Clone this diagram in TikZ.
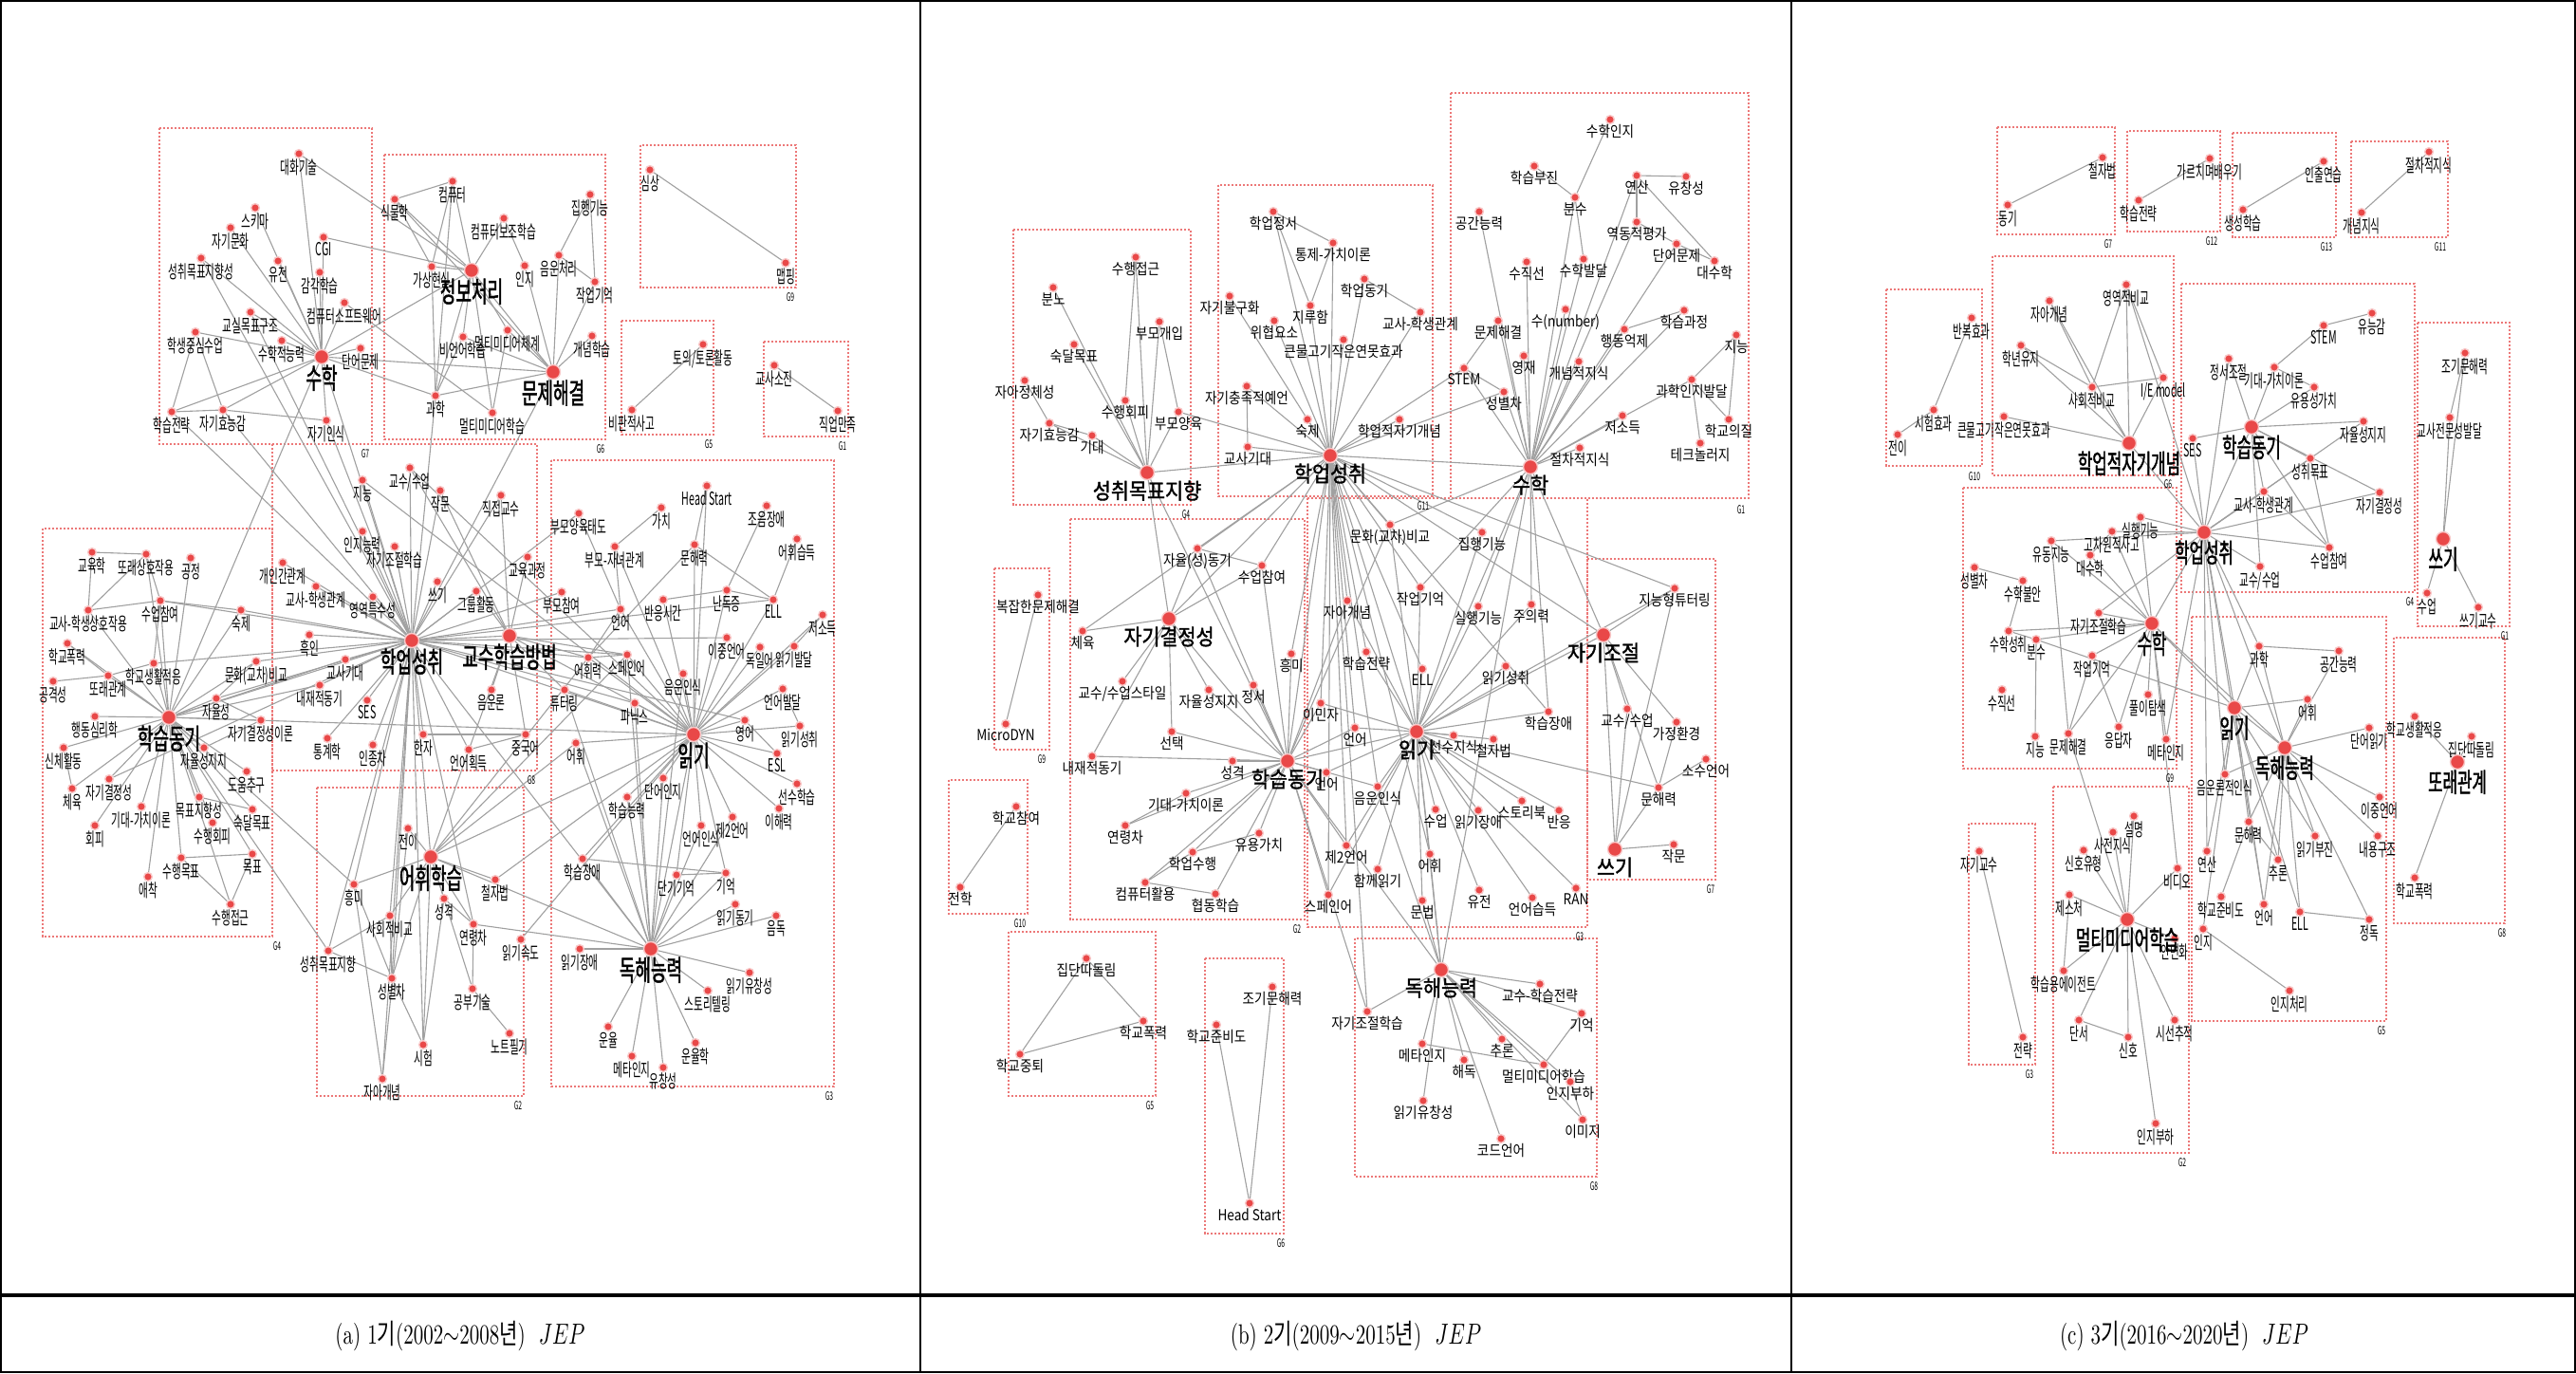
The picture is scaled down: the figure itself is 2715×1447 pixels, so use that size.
\documentclass[tikz,border=0pt]{standalone}
\usepackage{fontspec}
\usepackage{graphicx}
\usetikzlibrary{backgrounds}
\newfontfamily\krA[FakeStretch=0.56]{Noto Sans CJK KR}
\newfontfamily\krHub[FakeStretch=0.6,FakeBold=1.5]{Noto Sans CJK KR}
\newfontfamily\krB[FakeStretch=0.85]{Noto Sans CJK KR}
\newfontfamily\krBhub[FakeStretch=0.9,FakeBold=1.5]{Noto Sans CJK KR}
\newfontfamily\krCap{Noto Sans CJK KR}
\definecolor{dotred}{RGB}{233,72,72}
\definecolor{boxred}{RGB}{236,120,120}
\definecolor{linkgray}{RGB}{160,160,160}
\begin{document}
\begin{tikzpicture}[x=0.5pt,y=-0.5pt,
  dot/.style={circle,fill=dotred,draw=dotred!30,line width=0.7pt,inner sep=0pt,minimum size=4.4pt},
  hub/.style={dot,minimum size=7.5pt},
  kwa/.style={font=\fontsize{9.5}{10}\krA,inner sep=0pt},
  hba/.style={font=\fontsize{15}{16}\krHub,inner sep=0pt},
  kwb/.style={font=\fontsize{8}{9}\krB,inner sep=0pt},
  hbb/.style={font=\fontsize{11.5}{12}\krBhub,inner sep=0pt},
  hbc/.style={font=\fontsize{14}{15}\krHub,inner sep=0pt},
  link/.style={draw=linkgray,line width=0.55pt},
  grp/.style={draw=boxred,line width=0.6pt,dash pattern=on 1.1pt off 0.9pt},
  gtag/.style={font=\fontsize{6}{6}\krA,inner sep=0pt},
  captext/.style={font=\fontsize{10.5}{12}\selectfont,inner sep=0pt}]
\useasboundingbox (0,0) rectangle (2715,1447);

% panel (a)
\foreach \id/\x/\y/\txt in {
  aTalk/315/162/대화기술, aSchema/269/219/스키마, aSelfcul/243/240/자기문화,
  aGoalor/212/272/성취목표지향성, aGene/293/275/유전, aCGI/341/250/CGI,
  aSense/337/287/감각학습, aSoft/363/319/컴퓨터소프트웨어, aClass/264/329/교실목표구조,
  aStud/206/350/학생중심수업, aMathab/297/359/수학적능력, aWord/380/367/단어문제,
  aStrat/181/434/학습전략, aEff/235/432/자기효능감, aSelfaw/344/443/자기인식,
  aPlant/416/210/식물학, aComp/477/191/컴퓨터, aCAI/531/230/컴퓨터보조학습,
  aVR/455/281/가상현실, aCog/553/280/인지, aPhon/589/269/음운처리,
  aExec/622/205/집행기능, aWM/627/297/작업기억, aConc/624/354/개념학습,
  aMMsys/535/348/멀티미디어체계, aNonv/488/355/비언어학습, aSci/459/417/과학,
  aMMlearn/519/435/멀티미디어학습, aImag/685/179/심상, aMap/828/277/맵핑,
  aDisc/741/363/{토의/토론활동}, aCrit/666/432/비판적사고, aBurn/816/385/교사소진,
  aJob/883/433/직업만족,
  aEdu/97/582/교육학, aPeerint/154/584/또래상호작용, aFair/201/588/공정,
  aTSint/93/643/교사-학생상호작용, aPart/169/633/수업참여, aHw/254/643/숙제,
  aViol/71/678/학교폭력, aAdj/162/699/학교생활적응, aPeer/114/712/또래관계,
  aAggr/56/718/공격성, aCult/270/697/문화(교차)비교, aAuto/228/736/자율성,
  aBehav/100/755/행동심리학, aSDT/275/759/자기결정성이론, aPhys/67/788/신체활동,
  aAutosup/215/788/자율성지지, aHelp/260/813/도움추구, aSD/115/821/자기결정성,
  aPE/76/831/체육, aGoal/210/840/목표지향성, aMast/266/853/숙달목표,
  aEV/149/850/기대-가치이론, aPavoid/224/867/수행회피, aAvoid/100/870/회피,
  aPgoal/191/904/수행목표, aTarget/266/900/목표, aAttach/156/924/애착,
  aPappr/243/953/수행접근,
  aIntel/382/506/지능, aTeach/432/493/{교수/수업}, aWrit/464/517/작문,
  aDirect/528/522/직접교수, aCogab/382/560/인지능력, aSRL/416/576/자기조절학습,
  aInterp/298/593/개인간관계, aTSrel/333/618/교사-학생관계, aDomain/393/629/영역특수성,
  aCurr/556/587/교육과정, aWriting/461/613/쓰기, aGroup/502/623/그룹활동,
  aBlack/326/669/흑인, aTexp/364/695/교사기대, aIntr/337/722/내재적동기,
  aSES/387/738/SES, aPhonol/518/727/음운론, aHanja/446/774/한자,
  aAcq/494/790/언어획득, aChin/554/774/중국어, aStat/345/778/통계학,
  aRace/393/785/인종차,
  aHS/745/512/Head Start, aValue/697/535/가치, aArtic/808/533/조음장애,
  aParatt/610/541/부모양육태도, aParch/648/576/부모-자녀관계, aLit/732/574/문해력,
  aVocacq/840/568/어휘습득, aParinv/592/624/부모참여, aLang/654/642/언어,
  aRT/699/632/반응시간, aDys/766/622/난독증, aELL/815/632/ELL,
  aLowinc/867/648/저소득, aBil/766/672/이중언어, aGerm/801/682/독일어,
  aReaddev/837/681/읽기발달, aVocab/620/693/어휘력, aSpan/661/690/스페인어,
  aPA/720/710/음운인식, aTutor/595/727/튜터링, aPhonics/669/741/파닉스,
  aLangdev/825/726/언어발달, aEng/785/759/영어, aReadach/843/765/읽기성취,
  aVoc/607/783/어휘, aESL/819/794/ESL, aWordrec/699/820/단어인지,
  aPrior/840/826/선수학습, aLearnab/661/840/학습능력, aCompr/821/852/이해력,
  aL2/772/861/제2언어, aLangaw/739/870/언어인식, aLD/614/905/학습장애,
  aSTM/713/922/단기기억, aMem/765/920/기억, aRmot/775/953/읽기동기,
  aOral/818/965/음독, aRdis/611/1000/읽기장애, aFlu/790/1025/읽기유창성,
  aStory/746/1044/스토리텔링, aPros/641/1082/운율, aMeta/666/1113/메타인지,
  aFluen/699/1125/유창성, aProsody/733/1099/운율학,
  aTrans/430/873/전이, aInt/373/932/흥미, aSpell/522/927/철자법,
  aSoc/411/965/사회적비교, aPers/468/947/성격, aAge/499/974/연령차,
  aRspeed/549/990/읽기속도, aAgo/346/1002/성취목표지향, aGender/413/1031/성별차,
  aStudy/498/1042/공부기술, aNote/537/1089/노트필기, aTest/446/1101/시험,
  aSelfc/403/1137/자아개념}
  {\node[dot,label distance=2.5pt,label={[kwa]below:\txt}] (\id) at (\x,\y) {};}
\foreach \id/\x/\y/\txt in {
  aMath/339/376/수학, aInfo/497/285/정보처리, aProb/583/392/문제해결,
  aMot/178/756/학습동기, aAch/434/675/학업성취, aTLM/537/670/교수학습방법,
  aRead/731/774/읽기, aVL/454/903/어휘학습, aRC/686/1000/독해능력}
  {\node[hub,label distance=2.5pt,label={[hba]below:\txt}] (\id) at (\x,\y) {};}

% panel (b)
\foreach \id/\x/\y/\txt in {
  bPappr/1197/271/수행접근, bAnger/1110/303/분노, bParinv/1222/339/부모개입,
  bMast/1132/363/숙달목표, bIdent/1080/401/자아정체성, bPavoid/1186/422/수행회피,
  bParent/1242/434/부모양육, bEff/1106/446/자기효능감, bExpect/1151/459/기대,
  bEmo/1342/223/학업정서, bCVT/1405/256/통제-가치이론, bAmot/1438/294/학업동기,
  bHand/1296/312/자기불구화, bBore/1381/322/지루함, bThreat/1343/338/위협요소,
  bBFLP/1416/358/큰물고기작은연못효과, bSFP/1314/407/자기충족적예언, bHw/1378/442/숙제,
  bTexp/1315/471/교사기대, bASC/1475/442/학업적자기개념, bTSrel/1497/329/교사-학생관계,
  bMcog/1697/126/수학인지, bUnder/1617/175/학습부진, bCalc/1725/185/연산,
  bFlu/1777/186/유창성, bFrac/1660/208/분수, bSpace/1559/223/공간능력,
  bDyn/1725/234/역동적평가, bWP/1767/257/단어문제, bAlg/1807/275/대수학,
  bNL/1609/276/수직선, bMdev/1669/273/수학발달, bNum/1650/326/수(number),
  bPS/1579/338/문제해결, bInhib/1712/347/행동억제, bLproc/1775/327/학습과정,
  bIntel/1830/353/지능, bGifted/1606/375/영재, bConcept/1664/381/개념적지식,
  bSTEM/1543/388/STEM, bScidev/1783/400/과학인지발달, bGender/1585/413/성별차,
  bLowinc/1710/438/저소득, bSchq/1822/442/학교의질, bTech/1792/467/테크놀러지,
  bProc/1665/472/절차적지식,
  bCPS/1094/627/복잡한문제해결, bMicro/1060/763/MicroDYN,
  bSchpart/1071/850/학교참여, bTransf/1012/935/전학,
  bAutomot/1262/578/자율(성)동기, bPart/1330/596/수업참여, bPE/1141/665/체육,
  bTstyle/1183/718/{교수/수업스타일}, bAutosup/1274/727/자율성지지, bAffect/1321/722/정서,
  bInt/1361/689/흥미, bChoice/1235/771/선택, bIntr/1151/797/내재적동기,
  bPers/1299/802/성격, bEV/1250/836/기대-가치이론, bAge/1186/870/연령차,
  bUtil/1327/878/유용가치, bPerf/1257/898/학업수행, bComp/1207/930/컴퓨터활용,
  bCoop/1281/942/협동학습,
  bBully/1145/1010/집단따돌림, bViol/1205/1076/학교폭력, bDrop/1075/1111/학교중퇴,
  bEarly/1341/1040/조기문해력, bReady/1282/1080/학교준비도, bHS/1317/1268/Head Start,
  bCult/1465/553/문화(교차)비교, bExec/1562/561/집행기능, bWM/1497/619/작업기억,
  bSelfc/1420/633/자아개념, bExf/1558/639/실행기능, bAtt/1614/637/주의력,
  bStrat/1440/687/학습전략, bELL/1499/705/ELL, bRach/1587/702/읽기성취,
  bImm/1392/741/이민자, bLD/1632/750/학습장애, bLang/1428/767/언어,
  bPrior/1532/775/선수지식, bSpell/1574/779/철자법, bLang2/1398/814/언어,
  bPA/1452/829/음운인식, bClass/1513/853/수업, bRdis/1558/854/읽기장애,
  bStorybk/1604/844/스토리북, bResp/1643/854/반응, bL2/1419/891/제2언어,
  bVoc/1507/900/어휘, bShared/1452/916/함께읽기, bGene/1559/938/유전,
  bLacq/1615/946/언어습득, bRAN/1661/936/RAN, bSpan/1400/943/스페인어,
  bGram/1499/949/문법,
  bITS/1765/620/지능형튜터링, bTeach/1715/747/{교수/수업}, bHome/1767/761/가정환경,
  bMinor/1798/800/소수언어, bLit/1748/830/문해력, bComposition/1764/890/작문,
  bTLS/1623/1037/교수-학습전략, bSRL/1441/1066/자기조절학습, bMem/1667/1068/기억,
  bMeta/1499/1100/메타인지, bInfer/1583/1095/추론, bDecode/1543/1117/해독,
  bMML/1627/1122/멀티미디어학습, bRflu/1500/1160/읽기유창성, bCL/1655/1140/인지부하,
  bImage/1668/1180/이미지, bCode/1582/1200/코드언어}
  {\node[dot,label distance=4pt,label={[kwb]below:\txt}] (\id) at (\x,\y) {};}
\foreach \id/\x/\y/\txt in {
  bAGO/1209/498/성취목표지향, bAch/1402/480/학업성취, bMath/1613/492/수학,
  bSD/1232/652/자기결정성, bMot/1357/802/학습동기, bRead/1493/771/읽기,
  bSR/1690/669/자기조절, bWriting/1702/895/쓰기, bRC/1519/1022/독해능력}
  {\node[hub,label distance=4pt,label={[hbb]below:\txt}] (\id) at (\x,\y) {};}

% panel (c)
\foreach \id/\x/\y/\txt in {
  cSpell/2216/166/철자법, cMot/2116/216/동기, cTeachlearn/2329/167/가르치며배우기,
  cStrat/2254/211/학습전략, cRetr/2449/170/인출연습, cGen/2364/221/생성학습,
  cConc/2489/224/개념지식, cProc/2560/160/절차적지식,
  cRep/2078/335/반복효과, cTest/2038/432/시험효과, cTrans/2000/458/전이,
  cDomain/2241/300/영역적비교, cSelfc/2160/317/자아개념, cRet/2130/364/학년유지,
  cIE/2280/398/{I/E model}, cSoc/2205/408/사회적비교, cBFLP/2112/439/큰물고기작은연못효과,
  cSTEM/2449/343/STEM, cComp/2500/330/유능감, cEmo/2349/378/정서조절,
  cEV/2397/387/기대-가치이론, cUtil/2439/408/유용성가치, cAutosup/2491/444/자율성지지,
  cSES/2311/462/SES, cAgoal/2435/483/성취목표, cSD/2508/519/자기결정성,
  cTSrel/2386/518/교사-학생관계, cPart/2455/577/수업참여, cTeach/2382/597/{교수/수업},
  cExf/2256/545/실행기능, cHigh/2226/560/고차원적사고, cFluid/2162/570/유동지능,
  cAlg/2203/585/대수학, cGender/2081/598/성별차, cAnx/2132/612/수학불안,
  cSRL/2212/646/자기조절학습, cMach/2117/665/수학성취, cFrac/2146/674/분수,
  cWM/2205/691/작업기억, cNL/2110/727/수직선, cSol/2264/732/풀이탐색,
  cSpatial/2145/776/지능, cPS/2180/773/문제해결, cResp/2233/766/응답자,
  cMeta/2283/779/메타인지,
  cExpl/2249/860/설명, cPrior/2227/877/사전지식, cSig/2196/896/신호유형,
  cVideo/2295/915/비디오, cGest/2181/943/제스처, cAgent/2175/1023/학습용에이전트,
  cFace/2292/989/안면화, cCue/2191/1075/단서, cSignal/2243/1093/신호,
  cEye/2292/1075/시선추적, cCL/2272/1184/인지부하,
  cSelfinst/2086/897/자기교수, cStratc/2132/1093/전략,
  cSci/2381/681/과학, cSpace/2465/686/공간능력, cVoc/2432/737/어휘,
  cWordr/2497/767/단어읽기, cPA/2345/816/음운론적인식, cBil/2508/840/이중언어,
  cLit/2370/866/문해력, cStrug/2440/881/읽기부진, cStruct/2506/881/내용구조,
  cCalc/2326/897/연산, cInfer/2401/906/추론, cReady/2341/945/학교준비도,
  cLang/2386/953/언어, cELL/2424/961/ELL, cIntens/2497/969/정독,
  cCog/2322/979/인지, cCogproc/2413/1044/인지처리,
  cEarly/2598/372/조기문해력, cTPD/2582/440/교사전문성발달, cInst/2558/625/수업,
  cWinst/2612/640/쓰기교수,
  cAdj/2545/755/학교생활적응, cBully/2605/776/집단따돌림, cViol/2545/925/학교폭력}
  {\node[dot,label distance=4pt,label={[kwa]below:\txt}] (\id) at (\x,\y) {};}
\foreach \id/\x/\y/\txt in {
  cASC/2244/467/학업적자기개념, cMotiv/2373/450/학습동기, cAch/2323/561/학업성취,
  cMath/2268/657/수학, cRead/2355/746/읽기, cRC/2408/788/독해능력,
  cMML/2242/969/멀티미디어학습, cWriting/2575/568/쓰기, cPeerrel/2590/803/또래관계}
  {\node[hub,label distance=2.5pt,label={[hbc]below:\txt}] (\id) at (\x,\y) {};}

% group tags
\foreach \id/\x/\y/\txt in {
  gA7/385/478/G7, gA6/633/473/G6, gA9/833/313/G9, gA5/747/468/G5, gA1/888/470/G1,
  gA4/292/997/G4, gA8/560/822/G8, gA3/874/1155/G3, gA2/546/1165/G2,
  gB4/1250/542/G4, gB11/1500/533/G11, gB1/1835/537/G1, gB9/1098/800/G9,
  gB10/1075/973/G10, gB2/1367/979/G2, gB3/1665/987/G3, gB7/1803/937/G7,
  gB5/1212/1165/G5, gB6/1350/1310/G6, gB8/1680/1250/G8,
  gC7/2222/257/G7, gC12/2331/254/G12, gC13/2452/260/G13, gC11/2572/260/G11,
  gC10/2081/502/G10, gC6/2285/510/G6, gC4/2540/634/G4, gC1/2640/670/G1,
  gC9/2287/820/G9, gC5/2510/1086/G5, gC8/2637/983/G8, gC3/2139/1132/G3,
  gC2/2300/1225/G2}
  {\node[gtag] (\id) at (\x,\y) {\txt};}

\begin{scope}[on background layer]
\foreach \xa/\ya/\xb/\yb in {
  168/135/392/468, 405/163/638/463, 675/153/839/303, 655/338/752/458,
  805/360/894/460, 45/557/287/987, 287/468/566/812, 581/485/879/1145,
  334/830/552/1155,
  1068/242/1255/532, 1284/195/1510/523, 1529/98/1843/525, 1048/599/1106/790,
  1000/822/1083/963, 1128/547/1375/969, 1378/525/1673/977, 1673/589/1808/927,
  1063/982/1218/1155, 1270/1010/1353/1300, 1428/989/1683/1240,
  2105/134/2229/247, 2242/138/2340/244, 2353/140/2462/250, 2478/149/2580/250,
  1988/305/2089/491, 2100/270/2291/501, 2299/299/2545/624, 2548/340/2645/660,
  2069/514/2294/810, 2310/650/2515/1076, 2523/672/2640/973, 2075/868/2145/1122,
  2164/829/2307/1215}
  \draw[grp] (\xa,\ya) rectangle (\xb,\yb);

\foreach \u/\v in {
  aAch/aIntel, aAch/aCogab, aAch/aSRL, aAch/aInterp, aAch/aTSrel, aAch/aDomain,
  aAch/aBlack, aAch/aTexp, aAch/aIntr, aAch/aSES, aAch/aStat, aAch/aRace,
  aAch/aTeach, aAch/aWriting, aAch/aGroup, aAch/aTLM, aAch/aHanja, aAch/aAcq,
  aAch/aCult, aAch/aHw, aAch/aMot, aAch/aMath, aAch/aRead, aAch/aVL,
  aAch/aGender, aAch/aSoc, aAch/aAgo, aAch/aInt, aAch/aTest, aAch/aSelfc,
  aAch/aRC, aAch/aEff, aAch/aStrat, aAch/aPart, aAch/aAdj, aAch/aLang,
  aAch/aSpan, aAch/aVocab, aAch/aEng, aAch/aPhonics, aAch/aSci, aAch/aProb,
  aAch/aClass, aAch/aGoalor, aAch/aSD, aAch/aAuto, aAch/aParatt, aAch/aParinv,
  aAch/aELL, aAch/aBil, aAch/aWrit, aAch/aDirect, aAch/aSelfaw, aAch/aAge,
  aMot/aPeerint, aMot/aFair, aMot/aTSint, aMot/aPart, aMot/aHw, aMot/aViol,
  aMot/aAdj, aMot/aPeer, aMot/aCult, aMot/aAuto, aMot/aBehav, aMot/aSDT,
  aMot/aPhys, aMot/aAutosup, aMot/aHelp, aMot/aSD, aMot/aPE, aMot/aGoal,
  aMot/aMast, aMot/aEV, aMot/aPavoid, aMot/aAvoid, aMot/aPgoal, aMot/aTarget,
  aMot/aAttach, aMot/aPappr, aMot/aMath, aMot/aInt, aMot/aIntr, aMot/aTexp,
  aMot/aRead, aMot/aAgo,
  aEdu/aPeerint, aEdu/aTSint, aPeerint/aTSint, aPeerint/aPart, aTSint/aPart,
  aPart/aHw, aViol/aPeer, aAggr/aPeer, aPeer/aAdj, aPgoal/aTarget, aPappr/aTarget,
  aPappr/aPgoal, aGoal/aMast, aAuto/aSDT, aAutosup/aSDT, aPart/aAdj, aPhys/aPE,
  aAuto/aCult,
  aRead/aHS, aRead/aLit, aRead/aDys, aRead/aELL, aRead/aBil, aRead/aGerm,
  aRead/aReaddev, aRead/aVocab, aRead/aSpan, aRead/aPA, aRead/aTutor,
  aRead/aPhonics, aRead/aLangdev, aRead/aEng, aRead/aReadach, aRead/aVoc,
  aRead/aESL, aRead/aWordrec, aRead/aPrior, aRead/aLearnab, aRead/aCompr,
  aRead/aL2, aRead/aLangaw, aRead/aLD, aRead/aSTM, aRead/aMem, aRead/aRC,
  aRead/aLang, aRead/aRT, aRead/aLowinc, aRead/aTLM, aRead/aVL, aRead/aSpell,
  aRead/aRspeed, aRead/aParch, aRead/aIntel, aRead/aTeach,
  aValue/aParch, aParatt/aLang, aParch/aLang, aHS/aLit, aArtic/aDys,
  aVocacq/aELL, aLit/aELL, aLowinc/aReaddev, aLit/aVocab, aRT/aDys,
  aLang/aVocab, aDys/aELL, aSpan/aVocab, aSTM/aMem, aLD/aMem, aEng/aESL,
  aReadach/aLangdev,
  aRC/aLD, aRC/aSTM, aRC/aMem, aRC/aRmot, aRC/aOral, aRC/aRdis, aRC/aFlu,
  aRC/aStory, aRC/aPros, aRC/aMeta, aRC/aFluen, aRC/aProsody, aRC/aWordrec,
  aRC/aLearnab, aRC/aLangaw, aRC/aL2, aRC/aVL, aRC/aVoc, aRC/aPA,
  aRC/aPhonics, aRC/aAge, aRC/aTutor, aRC/aSpan,
  aVL/aTrans, aVL/aInt, aVL/aSpell, aVL/aSoc, aVL/aPers, aVL/aAge, aVL/aGender,
  aVL/aTest, aVL/aStudy, aVL/aTLM, aVL/aVoc, aVL/aVocab, aVL/aSpan,
  aInt/aGender, aAgo/aGender, aSoc/aGender, aGender/aTest, aPers/aAge,
  aAge/aStudy, aStudy/aNote, aSelfc/aTrans, aSelfc/aInt, aPers/aTest, aAgo/aSoc,
  aMath/aTalk, aMath/aSchema, aMath/aSelfcul, aMath/aGoalor, aMath/aGene,
  aMath/aCGI, aMath/aSense, aMath/aSoft, aMath/aClass, aMath/aStud,
  aMath/aMathab, aMath/aWord, aMath/aEff, aMath/aSelfaw, aMath/aProb,
  aMath/aInfo, aMath/aStrat, aMath/aSci,
  aStud/aStrat, aStud/aEff, aStrat/aEff, aEff/aSelfaw, aTalk/aInfo, aCGI/aInfo,
  aSoft/aMMlearn,
  aInfo/aPlant, aInfo/aComp, aInfo/aCAI, aInfo/aVR, aInfo/aNonv, aInfo/aMMsys,
  aInfo/aSci, aInfo/aMMlearn, aInfo/aProb,
  aProb/aPhon, aProb/aWM, aProb/aConc, aProb/aCog, aProb/aMMsys, aProb/aSci,
  aProb/aNonv, aProb/aPlant,
  aPlant/aComp, aPlant/aVR, aComp/aVR, aComp/aSci, aPhon/aExec, aPhon/aWM,
  aExec/aWM, aCAI/aCog, aVR/aSci, aNonv/aSci, aMMsys/aMMlearn,
  aTLM/aDirect, aTLM/aCurr, aTLM/aGroup, aTLM/aPhonol, aTLM/aChin, aTLM/aTutor,
  aTLM/aVocab, aTLM/aSpan, aTLM/aWrit, aTLM/aTeach,
  aHanja/aChin, aAcq/aChin, aImag/aMap, aDisc/aCrit, aBurn/aJob}
  \draw[link] (\u) -- (\v);

\foreach \u/\v in {
  bAch/bEmo, bAch/bCVT, bAch/bAmot, bAch/bHand, bAch/bBore, bAch/bThreat,
  bAch/bBFLP, bAch/bSFP, bAch/bHw, bAch/bTexp, bAch/bASC, bAch/bTSrel,
  bAch/bAGO, bAch/bMath, bAch/bRead, bAch/bMot, bAch/bSD, bAch/bAutomot,
  bAch/bPart, bAch/bCult, bAch/bSelfc, bAch/bStrat, bAch/bImm, bAch/bLang,
  bAch/bELL, bAch/bWM, bAch/bGender, bAch/bSTEM, bAch/bInt, bAch/bL2,
  bAch/bSpan, bAch/bSRL, bAch/bParent, bAch/bPE, bAch/bLD, bAch/bExec,
  bAch/bPA, bAch/bVoc, bAch/bSR, bAch/bITS,
  bAGO/bPappr, bAGO/bAnger, bAGO/bParinv, bAGO/bMast, bAGO/bPavoid,
  bAGO/bParent, bAGO/bEff, bAGO/bExpect, bAGO/bSD, bAGO/bMot,
  bPappr/bPavoid, bParinv/bParent, bIdent/bEff, bEff/bExpect,
  bEmo/bCVT, bCVT/bBore, bEmo/bBore, bAmot/bTSrel, bSFP/bTexp,
  bMath/bFrac, bMath/bSpace, bMath/bCalc, bMath/bMdev, bMath/bNum, bMath/bPS,
  bMath/bGifted, bMath/bConcept, bMath/bSTEM, bMath/bScidev, bMath/bGender,
  bMath/bLowinc, bMath/bProc, bMath/bInhib, bMath/bDyn, bMath/bWP, bMath/bNL,
  bMath/bRead, bMath/bSR, bMath/bWM, bMath/bAtt, bMath/bExf, bMath/bLD,
  bMath/bRC, bMath/bCult, bMath/bLproc,
  bMcog/bFrac, bUnder/bFrac, bFrac/bMdev, bCalc/bFlu, bCalc/bAlg, bDyn/bWP,
  bWP/bAlg, bIntel/bScidev, bIntel/bSchq, bScidev/bTech, bScidev/bSchq,
  bSTEM/bPS, bSTEM/bGender, bLproc/bInhib, bCalc/bDyn,
  bRead/bCult, bRead/bExec, bRead/bWM, bRead/bSelfc, bRead/bExf, bRead/bAtt,
  bRead/bStrat, bRead/bELL, bRead/bRach, bRead/bImm, bRead/bLD, bRead/bLang,
  bRead/bPrior, bRead/bSpell, bRead/bPA, bRead/bClass, bRead/bRdis,
  bRead/bStorybk, bRead/bResp, bRead/bL2, bRead/bVoc, bRead/bShared,
  bRead/bGene, bRead/bLacq, bRead/bRAN, bRead/bSpan, bRead/bGram, bRead/bRC,
  bRead/bMot, bRead/bLit, bRead/bITS, bRead/bSR, bRead/bLang2,
  bMot/bAutomot, bMot/bPart, bMot/bSD, bMot/bAutosup, bMot/bAffect, bMot/bInt,
  bMot/bChoice, bMot/bIntr, bMot/bPers, bMot/bEV, bMot/bAge, bMot/bUtil,
  bMot/bPerf, bMot/bComp, bMot/bCoop, bMot/bLang2, bMot/bPA, bMot/bSelfc,
  bMot/bImm, bMot/bLang, bMot/bSRL, bMot/bCult, bMot/bL2, bMot/bSpan,
  bSD/bAutomot, bSD/bPart, bSD/bPE, bSD/bTstyle, bSD/bIntr, bSD/bAutosup,
  bSD/bChoice,
  bEV/bAge, bComp/bCoop, bComp/bPerf, bPerf/bUtil, bAutomot/bPart,
  bCPS/bMicro, bSchpart/bTransf, bBully/bViol, bBully/bDrop, bViol/bDrop,
  bEarly/bHS, bReady/bHS,
  bSR/bITS, bSR/bTeach, bSR/bHome, bSR/bLit, bSR/bWriting,
  bWriting/bTeach, bWriting/bComposition, bWriting/bITS, bWriting/bLit,
  bLit/bMinor, bHome/bLit,
  bRC/bTLS, bRC/bSRL, bRC/bMem, bRC/bMeta, bRC/bInfer, bRC/bDecode, bRC/bMML,
  bRC/bRflu, bRC/bCL, bRC/bImage, bRC/bCode, bRC/bVoc, bRC/bGram, bRC/bPA,
  bRC/bMot, bMML/bMem, bMeta/bMML, bCL/bImage}
  \draw[link] (\u) -- (\v);

\foreach \u/\v in {
  cAch/cMotiv, cAch/cASC, cAch/cSES, cAch/cTSrel, cAch/cTeach, cAch/cPart,
  cAch/cAgoal, cAch/cMath, cAch/cRead, cAch/cRC, cAch/cSD, cAch/cEmo,
  cAch/cExf, cAch/cHigh, cAch/cFluid, cAch/cSRL, cAch/cLang, cAch/cPA,
  cAch/cCalc, cAch/cSci, cAch/cAutosup, cAch/cDomain, cAch/cMeta,
  cMotiv/cEmo, cMotiv/cEV, cMotiv/cUtil, cMotiv/cAutosup, cMotiv/cAgoal,
  cMotiv/cSD, cMotiv/cTSrel, cMotiv/cTeach, cMotiv/cPart, cMotiv/cSES,
  cSTEM/cComp, cEV/cSTEM, cUtil/cEV, cAgoal/cPart, cTSrel/cPart,
  cASC/cDomain, cASC/cSelfc, cASC/cRet, cASC/cIE, cASC/cSoc, cASC/cBFLP,
  cSelfc/cSoc, cDomain/cSoc, cDomain/cIE, cSoc/cIE, cRet/cSoc,
  cMath/cExf, cMath/cHigh, cMath/cFluid, cMath/cAlg, cMath/cSRL, cMath/cFrac,
  cMath/cWM, cMath/cSol, cMath/cPS, cMath/cResp, cMath/cMeta, cMath/cRead,
  cMath/cRC, cMath/cVideo, cMath/cMach,
  cGender/cAnx, cAnx/cMach, cMach/cFrac, cFrac/cSpatial, cFluid/cPS,
  cWM/cPS, cWM/cResp, cFrac/cRead, cPS/cMML, cHigh/cAlg,
  cRead/cSci, cRead/cRC, cRead/cVoc, cRead/cPA, cRead/cLit, cRead/cCalc,
  cRead/cCog, cRead/cELL, cRead/cInfer, cRead/cStrug, cRead/cLang,
  cRC/cVoc, cRC/cWordr, cRC/cBil, cRC/cStrug, cRC/cStruct, cRC/cInfer,
  cRC/cLang, cRC/cELL, cRC/cIntens, cRC/cSpace, cRC/cSci, cRC/cLit, cRC/cPA,
  cMML/cExpl, cMML/cPrior, cMML/cSig, cMML/cVideo, cMML/cGest, cMML/cAgent,
  cMML/cFace, cMML/cCue, cMML/cSignal, cMML/cEye, cMML/cCL,
  cCue/cSignal, cGest/cAgent, cCog/cCogproc, cReady/cLit, cLit/cInfer,
  cSci/cSpace, cELL/cIntens,
  cRep/cTest, cTest/cTrans, cSelfinst/cStratc, cSpell/cMot, cTeachlearn/cStrat,
  cRetr/cGen, cConc/cProc,
  cWriting/cEarly, cWriting/cTPD, cWriting/cInst, cWriting/cWinst, cEarly/cTPD,
  cPeerrel/cAdj, cPeerrel/cBully, cPeerrel/cViol}
  \draw[link] (\u) -- (\v);
\end{scope}

\draw[line width=1.2pt] (1,1) rectangle (2714,1446);
\draw[line width=0.8pt] (970,0) -- (970,1447);
\draw[line width=0.8pt] (1888,0) -- (1888,1447);
\draw[line width=2pt] (0,1365) -- (2715,1365);
\node[captext] (capA) at (485,1408) {\scalebox{1}[1.4]{(a) 1{\krCap 기}(2002$\sim$2008{\krCap 년})\ \ $JEP$}};
\node[captext] (capB) at (1429,1408) {\scalebox{1}[1.4]{(b) 2{\krCap 기}(2009$\sim$2015{\krCap 년})\ \ $JEP$}};
\node[captext] (capC) at (2302,1408) {\scalebox{1}[1.4]{(c) 3{\krCap 기}(2016$\sim$2020{\krCap 년})\ \ $JEP$}};
\end{tikzpicture}
\end{document}
